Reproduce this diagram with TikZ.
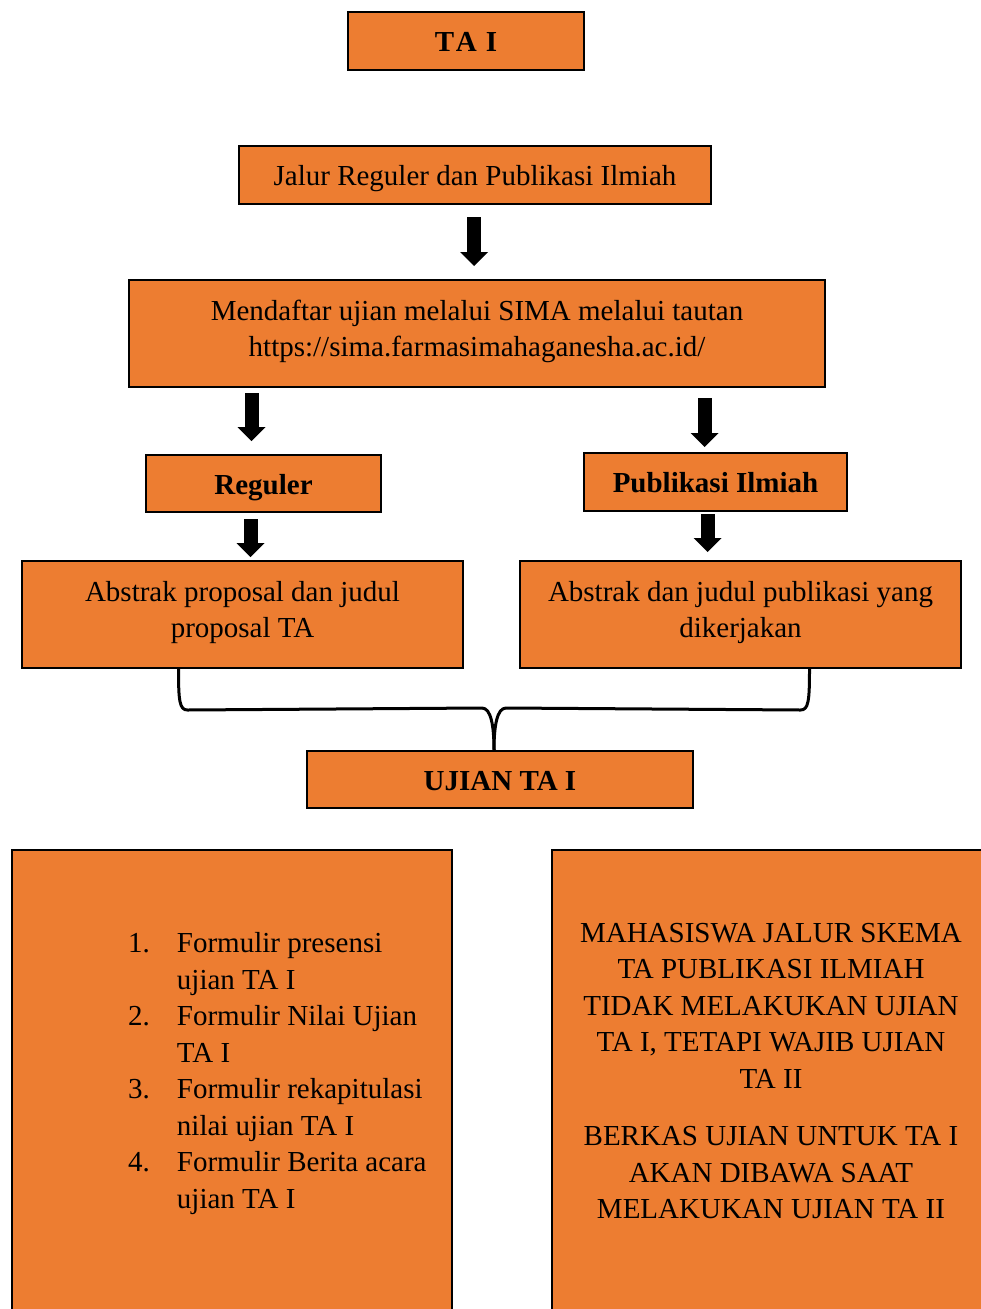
\documentclass[tikz,border=0pt]{standalone}
\usepackage{fontspec}
\setmainfont{Liberation Serif}
\usetikzlibrary{arrows.meta,calc,positioning}
\definecolor{boxorange}{HTML}{ED7D31}

\begin{document}
\begin{tikzpicture}[
    x=1pt, y=-1pt,
    font=\fontsize{29}{36.5}\selectfont,
    flow/.style={
		rectangle,
		draw=black,
		line width=2pt,
		fill=boxorange,
		inner sep=0pt,
		align=center
	},
	oneline/.style={
		flow,
		text height=27pt,
		text depth=6pt
	},
	twoline/.style={
		flow,
		text depth=10pt
	},
	head/.style={
		oneline,
		font=\fontsize{29}{36.5}\selectfont\bfseries
	},
	down/.style={
		line width=14pt,
		-{Triangle[width=28pt,length=14pt,line width=0pt]}
	},
	joinline/.style={
		line width=3pt,
		line cap=round,
		line join=round
	}
  ]
  \useasboundingbox (0,0) rectangle (981,1309);

    % the blocks, top to bottom
  \node [head, minimum width=236, minimum height=58] (ta1) at (466,41)
    {\addfontfeatures{Kerning=Off,LetterSpace=6}TA I};
  \node [oneline, minimum width=472, minimum height=58] (jalur) at (475,175)
    {Jalur Reguler dan Publikasi Ilmiah};
  \node [twoline, minimum width=696, minimum height=107] (daftar) at (477,333.5)
    {Mendaftar ujian melalui SIMA melalui tautan\\https://sima.farmasimahaganesha.ac.id/};

  \node [head, minimum width=235, minimum height=57] (reg) at (263.5,483.5) {Reguler};
  \node [head, minimum width=263, minimum height=58] (pub) at (715.5,482) {Publikasi Ilmiah};

  \node [twoline, minimum width=441, minimum height=107] (absL) at (242.5,614.5)
    {Abstrak proposal dan judul\\proposal TA};
  \node [twoline, minimum width=441, minimum height=107] (absR) at (740.5,614.5)
    {Abstrak dan judul publikasi yang\\dikerjakan};

  \node [head, minimum width=386, minimum height=57] (ujian) at (500,779.5) {UJIAN TA I};

  \node [flow, minimum width=440, minimum height=470] (berkasL) at (232,1085) {};
  \node [flow, minimum width=440, minimum height=470] (berkasR) at (772,1085) {};

  \node [anchor=west, inner sep=0pt] (formlist) at (128,1073)
 {%
 \begin{tabular}{@{}l@{\hspace{27pt}}l@{}}
  1. & Formulir presensi\\
     & ujian TA I\\
  2. & Formulir Nilai Ujian\\
     & TA I\\
  3. & Formulir rekapitulasi\\
     & nilai ujian TA I\\
  4. & Formulir Berita acara\\
     & ujian TA I
 \end{tabular}
 };
  \node [align=center, inner sep=0pt] (skema) at (771,1071)
    {MAHASISWA JALUR SKEMA\\TA PUBLIKASI ILMIAH\\TIDAK MELAKUKAN UJIAN\\
     TA I, TETAPI WAJIB UJIAN\\TA II\\[21pt]
     BERKAS UJIAN UNTUK TA I\\AKAN DIBAWA SAAT\\MELAKUKAN UJIAN TA II};

    % block arrows
  \draw [down] ($(jalur.south)+(-1,12)$) -- ($(jalur.south |- daftar.north)+(-1,-13)$);
  \draw [down] ($(reg.north |- daftar.south)+(-12,5)$) -- ($(reg.north)+(-12,-13)$);
  \draw [down] ($(pub.north |- daftar.south)+(-11,10)$) -- ($(pub.north)+(-11,-5)$);
  \draw [down] ($(reg.south)+(-13,6)$) -- ($(reg.south |- absL.north)+(-13,-3)$);
  \draw [down] ($(pub.south)+(-8,2)$) -- ($(pub.south |- absR.north)+(-8,-8)$);

    % the brace joining both tracks
  \coordinate (braceL) at ($(absL.south)+(-64,0)$);
  \coordinate (braceR) at ($(absR.south)+(69,0)$);
  \coordinate (braceTip) at ($(ujian.north)+(-6,0)$);
  \draw [joinline] (braceL) .. controls +(0,32) and +(-8,0) .. ($(braceL)+(9,41)$)
    -- ($(braceTip)+(-12,-42)$) .. controls +(9,0) and +(0,-24) .. (braceTip);
  \draw [joinline] (braceR) .. controls +(0,32) and +(8,0) .. ($(braceR)+(-9,41)$)
    -- ($(braceTip)+(12,-42)$) .. controls +(-9,0) and +(0,-24) .. (braceTip);

\end{tikzpicture}
\end{document}
